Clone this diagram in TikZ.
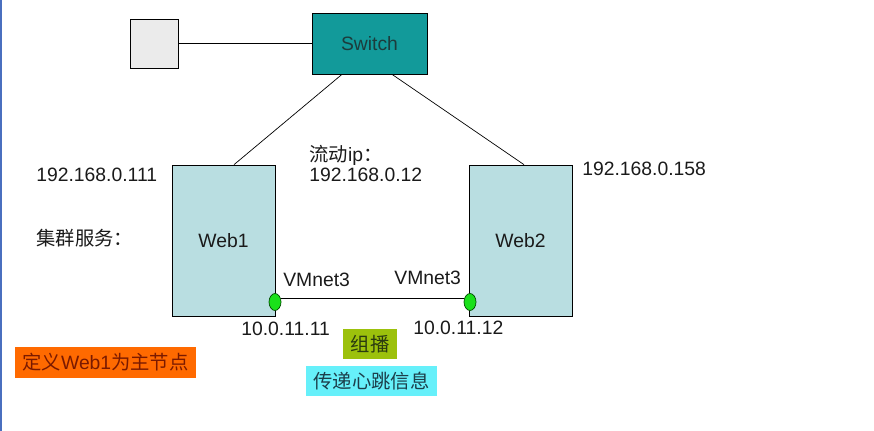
\documentclass[tikz,border=0pt]{standalone}
\usepackage{fontspec}
\setmainfont{Liberation Sans}
\newfontfamily\cjk{Noto Sans CJK SC}
\usetikzlibrary{calc,shapes.geometric}
\definecolor{fg}{HTML}{1A1A1A}
\definecolor{edgebar}{HTML}{4A6FBF}
\definecolor{surfpc}{HTML}{EBEBEB}
\definecolor{surfsw}{HTML}{129A9A}
\definecolor{fgsw}{HTML}{1C3C3C}
\definecolor{surfweb}{HTML}{B9DEE1}
\definecolor{port}{HTML}{1AE01A}
\definecolor{surfmain}{HTML}{FF6A00}
\definecolor{fgmain}{HTML}{7A1A00}
\definecolor{surfcast}{HTML}{9CC10C}
\definecolor{fgcast}{HTML}{2A3A10}
\definecolor{surfbeat}{HTML}{66F0FA}
\definecolor{fgbeat}{HTML}{1C3E4A}

\begin{document}
\begin{tikzpicture}[
  x=0.02cm, y=-0.02cm,
  font=\fontsize{11}{13}\selectfont,
  every node/.append style={text=fg},
  host/.style={draw=black, fill=surfweb, minimum width=2.06cm, minimum height=3.02cm, inner sep=0},
  nic/.style={ellipse, draw=black!70!green, fill=port, minimum width=0.24cm, minimum height=0.34cm, inner sep=0},
  lbl/.style={anchor=west, inner sep=0},
  tag/.style={inner sep=0, minimum height=0.61cm},
]
\useasboundingbox (0,0) rectangle (874,431);
\fill[edgebar] (0,0) rectangle (2,431);
% switch and the spare box
\node[draw=black, fill=surfpc, minimum width=0.96cm, minimum height=0.98cm, inner sep=0] (pc) at (154,43.5) {};
\node[draw=black, fill=surfsw, minimum width=2.3cm, minimum height=1.22cm, inner sep=0, text=fgsw] (sw) at (369.5,43.5) {Switch};
% the two web servers
\node[host] (web1) at (223.5,240.5) {Web1};
\node[host] (web2) at (520.5,240.5) {Web2};
\node[nic] (nic1) at (275,302) {};
\node[nic] (nic2) at (470,302) {};
% links
\draw (pc) -- (sw);
\draw ([xshift=-0.55cm]sw.south) -- ([xshift=0.21cm]web1.north);
\draw ([xshift=0.45cm]sw.south) -- ([xshift=0.07cm]web2.north);
\draw ([yshift=0.08cm]nic1.east) -- ([yshift=0.08cm]nic2.west);
% addresses
\node[lbl] (ip1) at (36,175) {192.168.0.111};
\node[lbl, align=left, font=\fontsize{11}{11.4}\selectfont] (vip) at (309,163) {{\cjk 流动}ip{\cjk ：}\\192.168.0.12};
\node[lbl] (ip2) at (582,169) {192.168.0.158};
\node[lbl] (svc) at (36,238) {\cjk 集群服务：};
\node[lbl] (vm1) at (283,280) {VMnet3};
\node[lbl] (vm2) at (394,278) {VMnet3};
\node[lbl] (hb1) at (241,329) {10.0.11.11};
\node[lbl] (hb2) at (413,328) {10.0.11.12};
% notes
\node[tag, fill=surfmain, minimum width=3.62cm, text=fgmain] (master) at (105.5,362.5) {{\cjk 定义}Web1{\cjk 为主节点}};
\node[tag, fill=surfcast, minimum width=1.08cm, text=fgcast] (cast) at (370,344) {\cjk 组播};
\node[tag, fill=surfbeat, minimum width=2.62cm, text=fgbeat] (beat) at (371.5,381) {\cjk 传递心跳信息};
\end{tikzpicture}
\end{document}
